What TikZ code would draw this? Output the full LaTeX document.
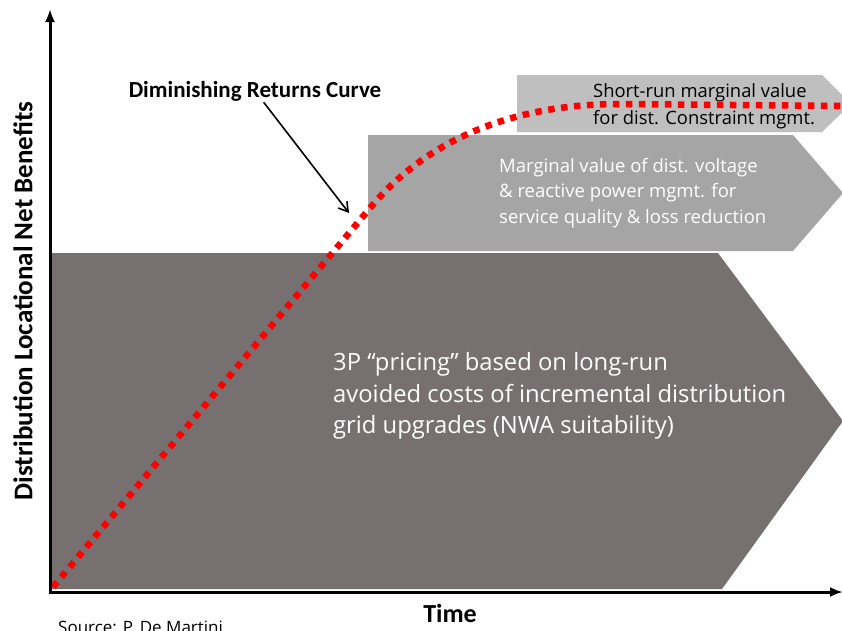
\documentclass[tikz,border=0pt]{standalone}
\usepackage{fontspec}
\setmainfont{Open Sans}
\newfontfamily\labfont{Carlito}
\usetikzlibrary{arrows.meta, positioning, calc}
\definecolor{DarkChev}{RGB}{118,113,112}
\definecolor{MidChev}{RGB}{165,165,165}
\definecolor{LightChev}{RGB}{191,191,191}
\definecolor{CurveRed}{RGB}{255,0,0}

\begin{document}
\begin{tikzpicture}[x=1pt, y=-1pt]
	\tikzstyle{axis} = [line width=3pt, {Latex[length=13pt,width=10pt]}-{Latex[length=13pt,width=10pt]}]
	\tikzstyle{lab} = [font=\labfont\bfseries\fontsize{27}{30}\selectfont, inner sep=1pt]
	\tikzstyle{chevtext} = [align=left, anchor=west, inner sep=0pt]
	\useasboundingbox (0,0) rectangle (842,630);
	\fill[white] (0,0) rectangle (842,630);
	
	% chevrons
	\fill[LightChev] (517,75) -- (822,75) -- (851,104) -- (822,132) -- (517,132) -- cycle;
	\fill[MidChev] (368,135) -- (793,135) -- (843,193) -- (793,251) -- (368,251) -- cycle;
	\fill[DarkChev] (50,253) -- (718,253) -- (843,421) -- (722,589) -- (50,589) -- cycle;
	
	\node[chevtext, font=\fontsize{18.4}{27}\selectfont] (short) at (593,106) {Short-run marginal value\\for dist. Constraint mgmt.};
	\node[chevtext, white, font=\fontsize{18.5}{25.5}\selectfont] (volt) at (499,193) {Marginal value of dist. voltage\\\& reactive power mgmt. for\\service quality \& loss reduction};
	\node[chevtext, white, font=\fontsize{23.8}{31.5}\selectfont] (lrac) at (333,396) {3P “pricing” based on long-run\\avoided costs of incremental distribution\\grid upgrades (NWA suitability)};
	
	% diminishing returns curve
	\draw[CurveRed, line width=6.5pt, dash pattern=on 6.5pt off 6.5pt] (53,587) -- (370,208) .. controls (420,148) and (500,104) .. (620,104) -- (846,106);
	
	\node[lab, font=\labfont\bfseries\fontsize{23}{26}\selectfont] (drc) at (255,91) {Diminishing Returns Curve};
	\coordinate (hit) at (349,213);
	\draw[line width=1.6pt, -{Straight Barb[length=9pt,width=11pt]}] (drc) -- (hit);
	
	% axes
	\coordinate (origin) at (50,592);
	\coordinate (ytop) at (50,9);
	\coordinate (xend) at (843,592);
	\draw[axis] (ytop) -- (origin) -- (xend);
	
	\node[lab, rotate=90] (ylab) at (23,301) {Distribution Locational Net Benefits};
	\node[lab, font=\labfont\bfseries\fontsize{26}{28}\selectfont] (xlab) at (450,613) {Time};
	\node[anchor=north west, inner sep=0pt, font=\fontsize{17}{20}\selectfont] (src) at (58,621) {Source: P. De Martini};
\end{tikzpicture}
\end{document}
